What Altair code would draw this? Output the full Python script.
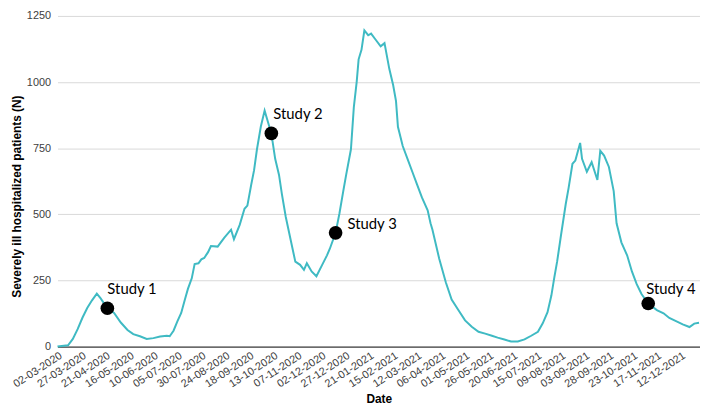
import altair as alt
import pandas as pd

start_date = "2020-03-02"

# days since start date, and severely ill hospitalized patients
day_offset = [0, 11, 16, 21, 26, 31, 36, 41, 45, 52,
              59, 66, 73, 79, 86, 93, 100, 107, 114, 117,
              121, 125, 129, 133, 136, 140, 143, 147, 150, 153,
              157, 160, 167, 174, 181, 184, 190, 195, 198, 202,
              205, 208, 212, 216, 219, 223, 227, 231, 234, 238,
              243, 248, 253, 257, 260, 265, 270, 276, 281, 284,
              290, 294, 298, 301, 306, 309, 312, 314, 317, 320,
              324, 327, 332, 337, 341, 346, 350, 353, 355, 360,
              365, 370, 375, 380, 386, 389, 391, 398, 405, 411,
              418, 425, 432, 439, 446, 453, 459, 466, 473, 480,
              487, 494, 501, 506, 511, 515, 518, 521, 525, 530,
              533, 537, 540, 545, 547, 552, 557, 563, 566, 570,
              575, 580, 583, 588, 594, 599, 604, 609, 616, 625,
              632, 638, 645, 652, 659, 664, 669]
patients = [0, 5, 29, 66, 109, 146, 175, 200, 182, 145,
            127, 91, 63, 47, 39, 29, 32, 38, 41, 39,
            60, 95, 127, 180, 218, 258, 312, 315, 330, 335,
            357, 380, 378, 412, 442, 406, 460, 521, 533, 612,
            667, 746, 831, 892, 855, 806, 710, 649, 576, 491,
            406, 321, 309, 290, 315, 284, 266, 309, 345, 370,
            430, 503, 588, 649, 746, 904, 1001, 1086, 1122, 1195,
            1177, 1183, 1159, 1135, 1147, 1050, 989, 928, 831, 758,
            710, 661, 612, 564, 515, 466, 442, 333, 242, 178,
            138, 99, 75, 56, 49, 41, 34, 27, 19, 19,
            27, 41, 56, 88, 130, 193, 260, 321, 420, 539,
            600, 691, 703, 770, 710, 661, 697, 630, 740, 722,
            679, 588, 466, 394, 345, 284, 236, 199, 163, 138,
            126, 108, 96, 84, 74, 87, 90]

study_labels = ["Study 1", "Study 2", "Study 3", "Study 4"]
study_day_offset = [52, 223, 290, 616]
study_patients = [145, 806, 430, 163]

tick_labels = ["02-03-2020", "27-03-2020", "21-04-2020", "16-05-2020", "10-06-2020",
               "05-07-2020", "30-07-2020", "24-08-2020", "18-09-2020", "13-10-2020",
               "07-11-2020", "02-12-2020", "27-12-2020", "21-01-2021", "15-02-2021",
               "12-03-2021", "06-04-2021", "01-05-2021", "26-05-2021", "20-06-2021",
               "15-07-2021", "09-08-2021", "03-09-2021", "28-09-2021", "23-10-2021",
               "17-11-2021", "12-12-2021"]
y_ticks = [0, 250, 500, 750, 1000, 1250]

base = pd.Timestamp(start_date)
df = pd.DataFrame({
    "date": [(base + pd.Timedelta(days=d)).strftime("%Y-%m-%d") for d in day_offset],
    "patients": patients,
})
studies = pd.DataFrame({
    "date": [(base + pd.Timedelta(days=d)).strftime("%Y-%m-%d") for d in study_day_offset],
    "patients": study_patients,
    "label": study_labels,
})


def utc_dt(s):
    d, m, y = (int(p) for p in s.split("-"))
    return alt.DateTime(year=y, month=m, date=d, utc=True)


tick_values = [utc_dt(t) for t in tick_labels]

x_enc = alt.X(
    "date:T",
    scale=alt.Scale(type="utc", domain=[utc_dt("02-03-2020"), utc_dt("01-01-2022")]),
    axis=alt.Axis(
        values=tick_values, format="%d-%m-%Y", labelAngle=327, grid=False, ticks=False,
        labelOverlap=False, labelBound=False,
        domainColor="#404040", domainWidth=1.2, labelColor="#404040",
        labelFont="Liberation Sans", labelFontSize=11, labelPadding=3,
        title="Date", titleFont="Liberation Sans", titleFontSize=12, titleFontWeight="bold",
        titleColor="#000000", titleY=47, titleBaseline="top",
    ),
)
y_enc = alt.Y(
    "patients:Q",
    scale=alt.Scale(domain=[0, 1250], nice=False),
    axis=alt.Axis(
        values=y_ticks, format="d", domain=False, ticks=False, gridColor="#d9d9d9", gridWidth=1,
        labelColor="#404040", labelFont="Liberation Sans", labelFontSize=11, labelPadding=7,
        title="Severely  ill hospitalized  patients (N)", titleFont="Liberation Sans",
        titleFontSize=12, titleFontWeight="bold", titleColor="#000000",
        titleX=-41, titleY=182, titleAngle=270, titleAlign="center", titleBaseline="middle",
    ),
)

line = alt.Chart(df).mark_line(color="#3fbac3", strokeWidth=2).encode(x=x_enc, y=y_enc)
dots = alt.Chart(studies).mark_circle(color="#000000", opacity=1, size=190).encode(
    x=x_enc, y=y_enc)

label_offsets = {"Study 1": (0, -19), "Study 2": (2, -20), "Study 3": (12, -9), "Study 4": (-2, -15)}
texts = []
for lab in study_labels:
    dx, dy = label_offsets[lab]
    texts.append(
        alt.Chart(studies).transform_filter(alt.datum.label == lab)
        .mark_text(align="left", baseline="middle", dx=dx, dy=dy, font="Lato",
                   fontSize=15, color="#000000")
        .encode(x=x_enc, y=y_enc, text="label:N")
    )

chart = alt.layer(line, dots, *texts).properties(
    width=649, height=334,
    padding={"left": 50, "top": 6, "right": 0, "bottom": 58},
    autosize="none",
).configure_view(stroke=None).configure_axis(labelOverlap=False)

chart.save("out.html", embed_options={"renderer": "svg", "actions": False})
